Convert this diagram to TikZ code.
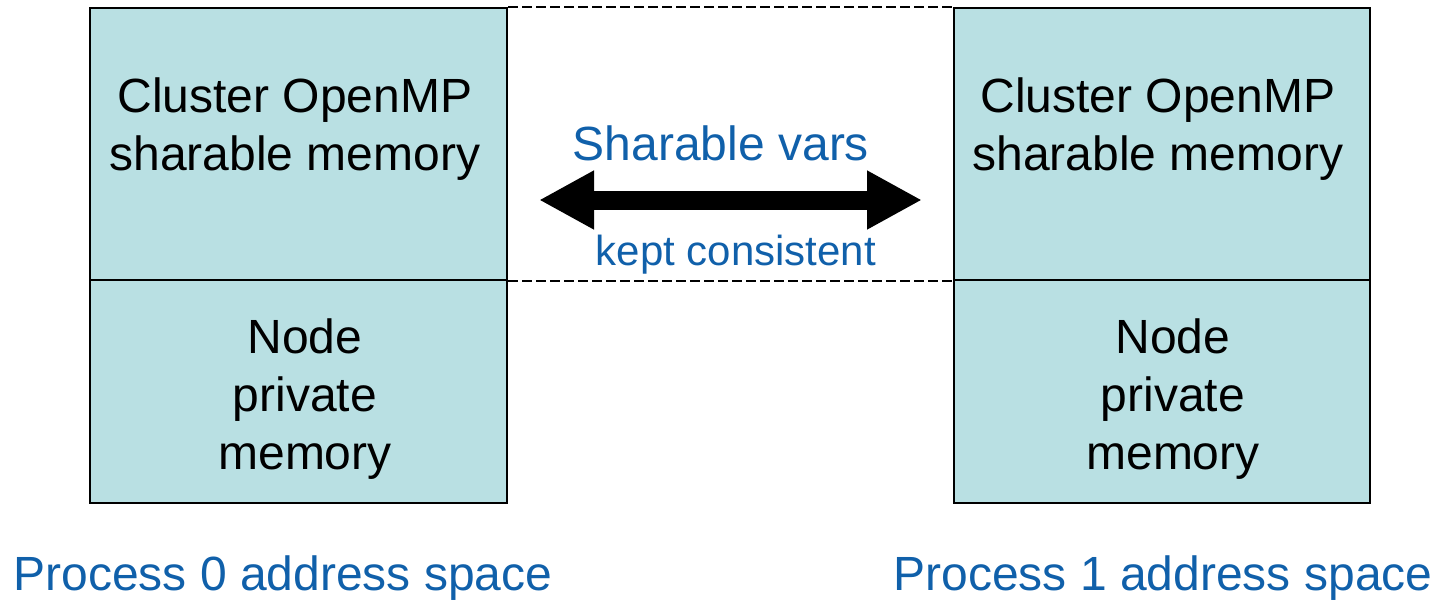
\documentclass[tikz,border=0pt]{standalone}
\usepackage{fontspec}
\setmainfont{Liberation Sans}
\usetikzlibrary{arrows.meta}
\definecolor{memfill}{RGB}{185,224,227}
\definecolor{labelblue}{RGB}{16,96,170}
\begin{document}
\begin{tikzpicture}[x=0.5pt,y=-0.5pt,
  membox/.style={draw=black,line width=1pt,fill=memfill,rectangle,inner sep=0pt},
  boxtext/.style={anchor=base,align=center,inner sep=0pt,font=\fontsize{24}{29}\selectfont},
  bluetext/.style={anchor=base,inner sep=0pt,text=labelblue},
  linkline/.style={draw=black,line width=0.7pt,dash pattern=on 5pt off 2pt},
  syncarrow/.style={line width=9.5pt,{Triangle[length=27.5pt,width=27.5pt]}-{Triangle[length=27.5pt,width=27.5pt]}}
]
\useasboundingbox (0,0) rectangle (1442,600);

% process 0 memory
\node[membox,minimum width=208.5pt,minimum height=136pt] (lshare) at (298.5,144) {};
\node[membox,minimum width=208.5pt,minimum height=111.5pt] (lpriv) at (298.5,391.5) {};
% process 1 memory
\node[membox,minimum width=208pt,minimum height=136pt] (rshare) at (1162,144) {};
\node[membox,minimum width=208pt,minimum height=111.5pt] (rpriv) at (1162,391.5) {};

% extent of the sharable region across both spaces
\draw[linkline] (lshare.north east) -- (rshare.north west);
\draw[linkline] (lshare.south east) -- (rshare.south west);

% box labels (base anchor sits on the last line)
\node[boxtext] (lsharetxt) at (295,170) {Cluster OpenMP\\sharable memory};
\node[boxtext] (rsharetxt) at (1158,170) {Cluster OpenMP\\sharable memory};
\node[boxtext] (lprivtxt) at (305,469) {Node\\private\\memory};
\node[boxtext] (rprivtxt) at (1173,469) {Node\\private\\memory};

% consistency arrow
\coordinate (aL) at (539,200);
\coordinate (aR) at (922,200);
\draw[syncarrow] (aL) -- (aR);
\node[bluetext,font=\fontsize{24}{28}\selectfont] (synctop) at (721,160) {Sharable vars};
\node[bluetext,font=\fontsize{21}{25}\selectfont] (syncbot) at (736,265) {kept consistent};

% address space captions
\node[bluetext,font=\fontsize{24}{28}\selectfont] (cap0) at (283,590) {Process 0 address space};
\node[bluetext,font=\fontsize{24}{28}\selectfont] (cap1) at (1163,590) {Process 1 address space};
\end{tikzpicture}
\end{document}
